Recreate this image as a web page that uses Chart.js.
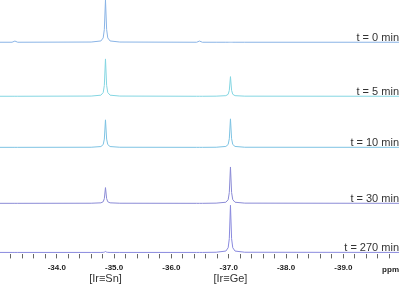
<!DOCTYPE html>
<html>
<head>
<meta charset="utf-8">
<script src="https://cdn.jsdelivr.net/npm/chart.js@4/dist/chart.umd.min.js"></script>
<style>
  html, body { margin: 0; padding: 0; background: #fff; }
  #wrap { width: 400px; height: 287px; }
</style>
</head>
<body>
<div id="wrap"><canvas id="nmr" width="400" height="287"></canvas></div>
<script>
// Stacked 119Sn/73Ge-type NMR spectra over time (ppm axis reversed)

// --------------------- Data ---------------------
const ppm = [
  -33.01, -33.22, -33.27, -33.32,
  -34.6, -34.77, -34.81, -34.83, -34.85, -34.87, -34.89, -34.93, -35.1,
  -36.44, -36.49, -36.54,
  -36.78, -36.95, -36.99, -37.01, -37.03, -37.05, -37.07, -37.11, -37.28,
  -39.97
];

const traceNames = ["t = 0 min", "t = 5 min", "t = 10 min", "t = 30 min", "t = 270 min"];

const t0   = [0, 0, 1.2, 0,  0.2, 1.3, 4.4, 13, 43, 13, 4.4, 1.3, 0.2,  0, 1.2, 0,  0, 0, 0, 0, 0, 0, 0, 0, 0,  0];
const t5   = [0, 0, 0, 0,    0.2, 1.1, 3.8, 11, 38, 11, 3.8, 1.1, 0.2,  0, 0, 0,    0.1, 0.6, 2, 6, 20, 6, 2, 0.6, 0.1,  0];
const t10  = [0, 0, 0, 0,    0.1, 0.8, 2.8, 8.4, 28, 8.4, 2.8, 0.8, 0.1,  0, 0, 0,  0.1, 0.9, 2.9, 8.7, 29, 8.7, 2.9, 0.9, 0.1,  0];
const t30  = [0, 0, 0, 0,    0.1, 0.5, 1.6, 4.8, 16, 4.8, 1.6, 0.5, 0.1,  0, 0, 0,  0.2, 1.1, 3.7, 11, 37, 11, 3.7, 1.1, 0.2,  0];
const t270 = [0, 0, 0, 0,    0, 0, 0.1, 0.3, 1, 0.3, 0.1, 0, 0,          0, 0, 0,  0.2, 1.4, 4.8, 14, 48, 14, 4.8, 1.4, 0.2,  0];

const species = ["[Ir\u2261Sn]", "[Ir\u2261Ge]"];
const speciesPpm = [-34.85, -37.03];

// --------------------- Styling ---------------------
const series = [t0, t5, t10, t30, t270];
const stackOffsets = [216, 161, 109, 52, 2];   // vertical stacking of the traces
const colors = ["#8ab4e6", "#84d6e2", "#7ec3e3", "#8b8bd6", "#8a8ade"];

const datasets = series.map((vals, i) => ({
  label: traceNames[i],
  data: vals.map((v, k) => ({ x: ppm[k], y: v + stackOffsets[i] })),
  borderColor: colors[i],
  borderWidth: 1,
  pointRadius: 0,
  tension: 0,
  fill: false
}));

// text overlays: trace names, species names, "ppm"
const overlay = {
  id: 'overlay',
  afterDraw(chart) {
    const { ctx, scales: { x, y }, chartArea } = chart;
    ctx.save();
    ctx.fillStyle = '#333';
    ctx.font = '11px "Liberation Sans", Arial, sans-serif';
    ctx.textAlign = 'right';
    ctx.textBaseline = 'alphabetic';
    traceNames.forEach((name, i) => {
      ctx.fillText(name, chartArea.right, y.getPixelForValue(stackOffsets[i]) - 1.5);
    });

    ctx.textAlign = 'center';
    ctx.textBaseline = 'middle';
    species.forEach((s, i) => {
      ctx.fillText(s, x.getPixelForValue(speciesPpm[i]), 279);
    });

    ctx.font = 'bold 8px "Liberation Sans", Arial, sans-serif';
    ctx.textAlign = 'right';
    ctx.fillStyle = '#222';
    ctx.fillText('ppm', 399, 270);
    ctx.restore();
  }
};

new Chart(document.getElementById('nmr').getContext('2d'), {
  type: 'line',
  data: { datasets },
  options: {
    responsive: false,
    animation: false,
    layout: { padding: { left: 0, right: 1, top: 0, bottom: 9 } },
    plugins: { legend: { display: false }, tooltip: { enabled: false } },
    scales: {
      x: {
        type: 'linear',
        min: -39.97,
        max: -33.01,
        reverse: true,
        border: { display: false },
        grid: { drawOnChartArea: false, tickLength: 4, color: '#666' },
        ticks: {
          stepSize: 0.2,
          includeBounds: false,
          autoSkip: false,
          maxRotation: 0,
          padding: 5,
          color: '#222',
          font: { family: '"Liberation Sans", Arial, sans-serif', size: 8, weight: 'bold' },
          callback: (v) => Math.abs(v - Math.round(v)) < 1e-6 ? v.toFixed(1) : ''
        }
      },
      y: { display: false, min: 0, max: 259 }
    }
  },
  plugins: [overlay]
});
</script>
</body>
</html>
